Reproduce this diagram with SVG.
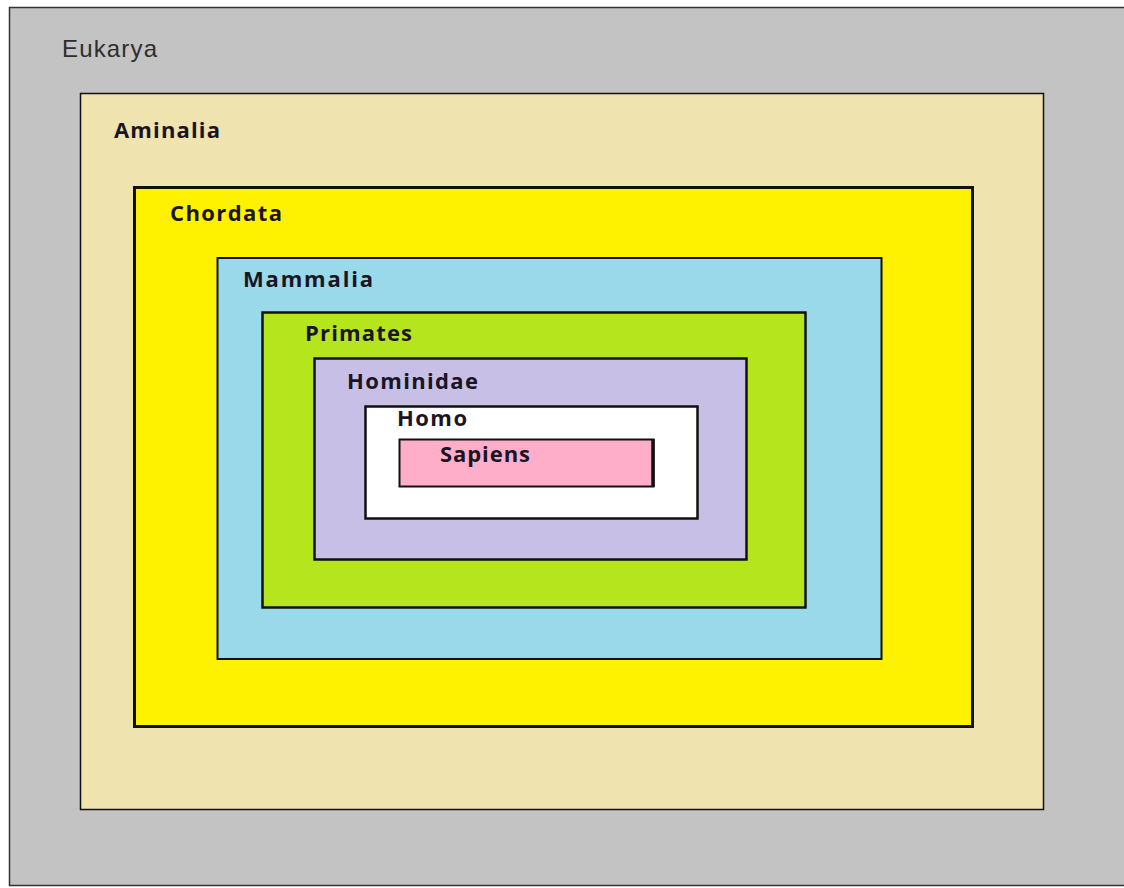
<svg xmlns="http://www.w3.org/2000/svg" width="1124" height="888" viewBox="0 0 1124 888">
<style>
.b{stroke:#111;}
.t{font-family:"Open Sans",Lato,sans-serif;font-weight:bold;font-size:22px;fill:#1a1424;}
</style>
<rect width="1124" height="888" fill="#ffffff"/>
<g id="eukarya">
<rect x="9.5" y="7.5" width="1120" height="878" fill="#c3c3c3" stroke="#333" stroke-width="1.5"/>
<text x="62" y="57" textLength="95" style="font-family:'Liberation Sans',Arial,sans-serif;font-size:24px;fill:#2e2e2e">Eukarya</text>
</g>
<g id="aminalia">
<rect x="80.5" y="93.5" width="963" height="716" fill="#efe3b0" class="b" stroke-width="1.5"/>
<text x="114" y="138" textLength="106" class="t">Aminalia</text>
</g>
<g id="chordata">
<rect x="134.5" y="187.5" width="838" height="539" fill="#fff200" class="b" stroke-width="3"/>
<text x="170" y="221" textLength="112" class="t">Chordata</text>
</g>
<g id="mammalia">
<rect x="217.5" y="258" width="664" height="401" fill="#99d9ea" class="b" stroke-width="2"/>
<text x="243" y="287" textLength="130" class="t">Mammalia</text>
</g>
<g id="primates">
<rect x="262.5" y="312.5" width="543" height="295" fill="#b5e61d" class="b" stroke-width="2.5"/>
<text x="305" y="341" textLength="107" class="t">Primates</text>
</g>
<g id="hominidae">
<rect x="314.5" y="358.5" width="432" height="201" fill="#c8bfe7" class="b" stroke-width="2.5"/>
<text x="347" y="389" textLength="131" class="t">Hominidae</text>
</g>
<g id="homo">
<rect x="365.5" y="406.5" width="332" height="112" fill="#ffffff" class="b" stroke-width="2.5"/>
<text x="397" y="426" textLength="70" class="t">Homo</text>
</g>
<g id="sapiens">
<rect x="399.5" y="439.5" width="254" height="47" fill="#ffaec9" class="b" stroke-width="2"/>
<line x1="653" y1="439" x2="653" y2="487" stroke="#111" stroke-width="3.5"/>
<text x="440" y="462" textLength="90" class="t">Sapiens</text>
</g>
<g id="connectors"></g>
</svg>
